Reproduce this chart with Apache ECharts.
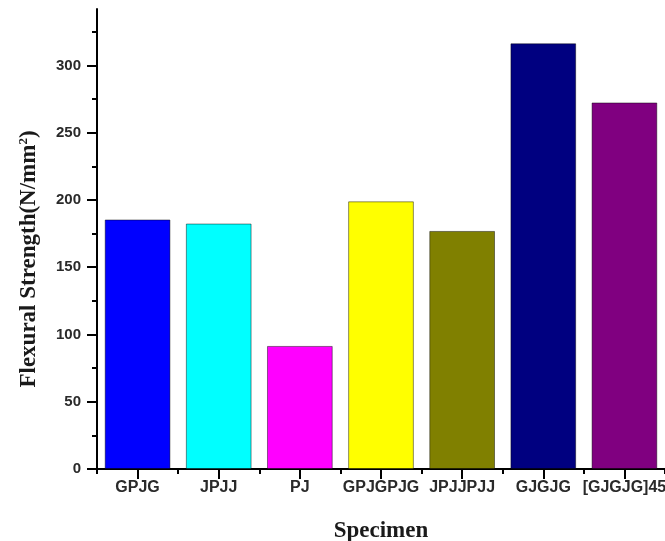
<!DOCTYPE html>
<html>
<head>
<meta charset="utf-8">
<script src="https://cdn.jsdelivr.net/npm/echarts@6/dist/echarts.min.js"></script>
<style>
html,body{margin:0;padding:0;background:#fff;}
#chart{width:665px;height:541px;}
</style>
</head>
<body>
<div id="chart"></div>
<script>
const categories = ['GPJG', 'JPJJ', 'PJ', 'GPJGPJG', 'JPJJPJJ', 'GJGJG', '[GJGJG]45'];
const strengthValues = [185.5, 182.5, 91.5, 199, 177, 316.5, 272.5];
const barColors = ['#0000FF', '#00FFFF', '#FF00FF', '#FFFF00', '#808000', '#000080', '#800080'];
const yTickValues = [0, 50, 100, 150, 200, 250, 300];
const yMinorTickValues = [25, 75, 125, 175, 225, 275, 325];
const yAxisMax = 342;

const chart = echarts.init(document.getElementById('chart'), null, {renderer: 'canvas'});

const labelFont = {fontFamily: 'Liberation Sans', fontWeight: 'bold', fontSize: 15, color: '#2a2a2a'};
const xLabelFont = {fontFamily: 'Liberation Sans', fontWeight: 'bold', fontSize: 16, color: '#2a2a2a'};
const titleFont = {fontFamily: 'Liberation Serif', fontWeight: 'bold', fontSize: 23, color: '#1a1a1a'};

chart.setOption({
  animation: false,
  backgroundColor: '#ffffff',
  grid: {left: 97, right: 0, top: 9, bottom: 72, containLabel: false, outerBoundsMode: 'none'},
  xAxis: [
    {
      type: 'category',
      data: categories,
      position: 'bottom',
      boundaryGap: true,
      name: 'Specimen',
      nameLocation: 'middle',
      nameGap: 51,
      nameTextStyle: titleFont,
      axisLine: {show: true, lineStyle: {color: '#000', width: 2}},
      axisTick: {show: true, alignWithLabel: true, inside: false, length: 10, lineStyle: {color: '#000', width: 2}},
      axisLabel: Object.assign({margin: 11, interval: 0, hideOverlap: false}, xLabelFont),
      splitLine: {show: false}
    },
    {
      type: 'category',
      data: categories,
      position: 'bottom',
      boundaryGap: true,
      axisLine: {show: false},
      axisTick: {show: true, alignWithLabel: false, length: 5, lineStyle: {color: '#000', width: 2}},
      axisLabel: {show: false},
      splitLine: {show: false}
    }
  ],
  yAxis: [
    {
      type: 'value',
      min: 0,
      max: yAxisMax,
      position: 'left',
      name: '{t|Flexural Strength(N/mm}{s|2}{t|)}',
      nameLocation: 'middle',
      nameGap: 55,
      nameRotate: 90,
      nameTextStyle: {
        padding: [0, 40, 0, 0],
        rich: {
          t: titleFont,
          s: {fontFamily: 'Liberation Serif', fontWeight: 'bold', fontSize: 13, color: '#1a1a1a', verticalAlign: 'top', padding: [0, 0, 12, 0]}
        }
      },
      axisLine: {show: true, lineStyle: {color: '#000', width: 2}},
      axisTick: {show: true, customValues: yTickValues, length: 10, lineStyle: {color: '#000', width: 2}},
      axisLabel: Object.assign({customValues: yTickValues, margin: 16}, labelFont),
      splitLine: {show: false}
    },
    {
      type: 'value',
      min: 0,
      max: yAxisMax,
      position: 'left',
      axisLine: {show: false},
      axisTick: {show: true, customValues: yMinorTickValues, length: 5, lineStyle: {color: '#000', width: 2}},
      axisLabel: {show: false},
      splitLine: {show: false}
    }
  ],
  series: [{
    type: 'bar',
    xAxisIndex: 0,
    yAxisIndex: 0,
    barCategoryGap: '19%',
    data: strengthValues.map((v, i) => ({
      value: v,
      itemStyle: {color: barColors[i], borderColor: 'rgba(0,0,0,0.45)', borderWidth: 1}
    }))
  }]
});
</script>
</body>
</html>
